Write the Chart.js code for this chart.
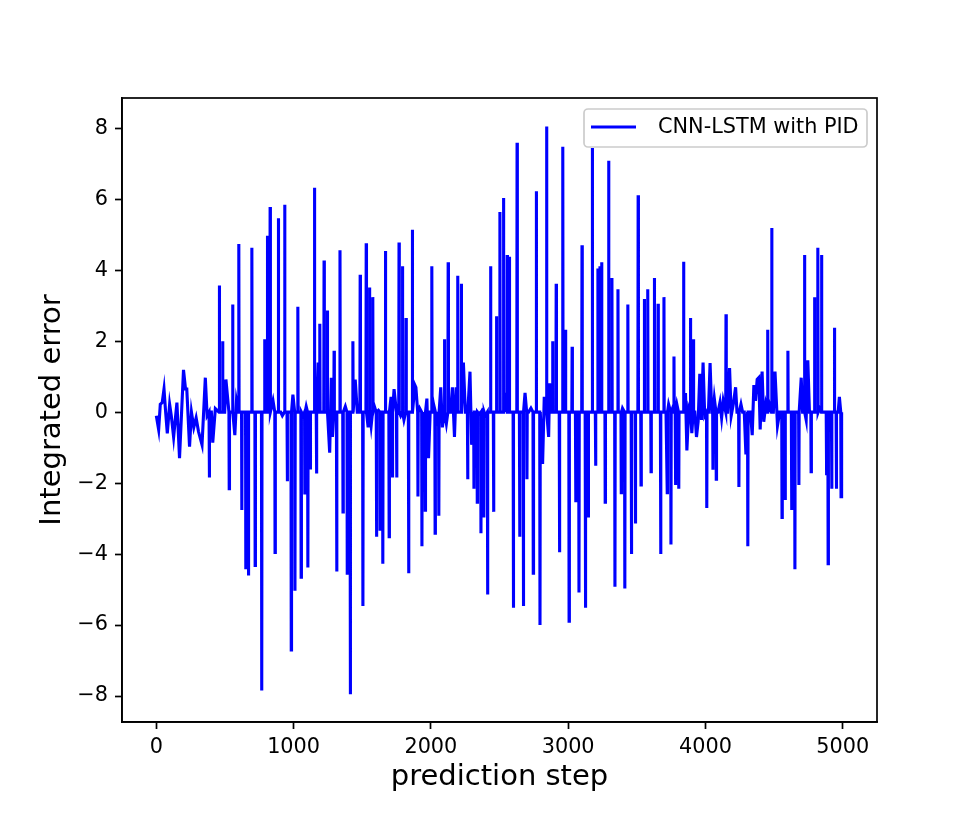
<!DOCTYPE html>
<html lang="en">
<head>
    <meta charset="UTF-8">
    <title>Integrated error</title>
    <script src="https://cdn.jsdelivr.net/npm/chart.js"></script>
    <style>
        html, body { margin: 0; padding: 0; background: #fff; }
        #wrap { width: 975px; height: 825px; }
    </style>
</head>
<body>
    <div id="wrap"><canvas id="err-chart" width="975" height="825"></canvas></div>

    <script>
        // values (vertices of the trace)
        const steps = [
            0, 17, 29, 43, 56, 68, 80, 97, 109, 126, 150, 169, 198, 213, 222, 242, 256, 273, 290, 307,
            333, 357, 370, 386, 401, 411, 430, 459, 473, 483, 498, 507, 531, 556, 572, 584, 601, 623, 652, 671,
            696, 720, 739, 768, 790, 809, 829, 850, 865, 889, 906, 918, 935, 942, 954, 966, 983, 995, 1010, 1031,
            1055, 1070, 1082, 1092, 1104, 1121, 1135, 1152, 1167, 1179, 1191, 1203, 1222, 1234, 1246, 1263, 1275, 1283, 1295, 1314,
            1338, 1360, 1377, 1391, 1413, 1432, 1449, 1464, 1485, 1505, 1529, 1543, 1553, 1565, 1577, 1589, 1604, 1618, 1630, 1650,
            1669, 1686, 1696, 1710, 1720, 1732, 1751, 1768, 1780, 1793, 1804, 1819, 1838, 1853, 1865, 1884, 1891, 1906, 1918, 1935,
            1944, 1959, 1971, 1983, 1995, 2007, 2019, 2031, 2046, 2058, 2072, 2084, 2099, 2113, 2126, 2143, 2157, 2172, 2184, 2196,
            2208, 2222, 2237, 2251, 2268, 2285, 2297, 2314, 2326, 2338, 2350, 2365, 2374, 2386, 2396, 2413, 2435, 2457, 2478, 2490,
            2503, 2517, 2529, 2543, 2556, 2565, 2572, 2601, 2628, 2647, 2657, 2674, 2686, 2700, 2712, 2729, 2746, 2768, 2780, 2795,
            2814, 2826, 2843, 2858, 2865, 2875, 2887, 2901, 2913, 2925, 2937, 2961, 2981, 2990, 3007, 3029, 3043, 3055, 3065, 3079,
            3101, 3126, 3147, 3159, 3176, 3188, 3200, 3217, 3232, 3244, 3256, 3270, 3295, 3307, 3319, 3341, 3363, 3372, 3387, 3396,
            3413, 3435, 3447, 3461, 3478, 3490, 3510, 3531, 3546, 3555, 3565, 3580, 3592, 3604, 3628, 3643, 3655, 3674, 3698, 3713,
            3722, 3732, 3749, 3761, 3771, 3782, 3792, 3806, 3821, 3841, 3855, 3865, 3879, 3891, 3901, 3913, 3923, 3935, 3947, 3959,
            3971, 3983, 3995, 4010, 4022, 4034, 4046, 4055, 4065, 4079, 4092, 4106, 4118, 4130, 4150, 4162, 4176, 4188, 4203, 4220,
            4230, 4244, 4259, 4271, 4283, 4295, 4309, 4328, 4341, 4353, 4365, 4377, 4389, 4399, 4413, 4425, 4440, 4454, 4466, 4483,
            4495, 4507, 4525, 4541, 4558, 4568, 4580, 4601, 4616, 4628, 4638, 4652, 4669, 4681, 4698, 4708, 4722, 4734, 4746, 4758,
            4770, 4783, 4795, 4807, 4819, 4831, 4846, 4858, 4870, 4882, 4894, 4908, 4920, 4930, 4940, 4954, 4967, 4976, 4988, 4993
        ];
        const errors = [
            -0.1, -0.49, 0.22, 0.27, 0.65, 0, -0.6, 0.22, -0.1, -0.7, 0.27, -1.3, 1.19, 0.65, 0.65, -0.97, 0, -0.43, -0.16, -0.54,
            -0.92, 0.97, -0.1, -1.84, 0, -0.86, 0.1, 3.57, 0, 2.0, 0, 0.92, -2.16, 3.03, -0.65, 0.32, 4.74, -2.76, -4.43, -4.6,
            4.63, -4.32, 0, -7.84, 2.05, 4.97, 5.78, 0.32, -3.95, 5.46, 0, -0.1, 5.84, 0, -1.95, 0, -6.7, 0.49, -5.03, 2.97,
            -4.65, -0.1, -2.32, 0.16, -4.38, -1.57, 0, 6.32, -1.73, 1.4, 2.49, 0, 4.27, 0, 2.86, -1.14, 0.97, -0.7, 1.73, -4.49,
            4.56, -2.81, 0.16, -4.54, -7.95, 2.0, 0.92, 0, 3.87, -5.46, 4.76, -0.43, 3.51, -0.38, 3.24, 0.16, -3.51, 0.05, -3.3, -4.27,
            4.54, 0, -3.51, 0.43, -1.84, 0.65, -1.84, 4.78, -0.1, 4.11, -0.22, 2.65, -4.54, 0, 5.14, 0.76, 0.7, -2.38, 0.11, -3.78,
            -0.43, -2.76, 0.38, -1.3, 0, 4.11, 0.22, -3.41, -0.22, -2.92, 0.7, -0.43, 2.05, -0.32, 4.22, 0, 0.7, -0.7, 0.7, 3.84,
            0, 3.62, 1.4, 0, -1.89, 1.14, -0.92, -2.16, 0, -2.54, -0.05, -3.41, 0.05, -2.97, -0.1, -5.14, 4.11, -2.81, 2.7, 0,
            5.64, 0, 6.03, 0.3, 4.43, 0, 4.38, -5.51, 7.59, -3.51, 0, -5.46, 0.54, -1.89, 0, 0.11, -4.54, 6.22, 0, -6.0,
            -1.46, 0.43, 8.05, -0.7, 0.81, 0, 2.0, 0, 3.62, 0, -3.95, 7.48, 2.32, 0, -5.89, 1.84, 0, -2.54, 0, -5.08,
            4.7, -5.51, -2.97, 0, 7.44, 0, -1.51, 4.05, 4.11, 4.22, 0, -2.54, 7.08, 0, 3.78, -4.92, 3.46, 0, -2.27, 0.11,
            -4.97, 3.03, 0, -4.0, 0, -3.14, 6.11, -2.05, 0, 3.19, 0, 3.46, 0, -1.68, 3.78, 0, 3.05, -4.0, 3.24, 0,
            -2.27, 0.22, -3.73, 0.11, 1.57, -2.05, 0.22, -2.16, 0, 4.24, 0.54, -1.08, 0.11, 2.65, -0.59, 2.05, 0, -0.7, -0.27, 1.08,
            -0.22, 1.4, -0.1, -2.7, 0, 1.38, 0, -1.62, 0.38, -1.89, 0, 0.27, -0.16, 0.32, 2.76, 0, 1.24, -0.1, 0.22, 0.7,
            0, -2.11, 0.22, 0, 0, -1.19, -3.78, 0, -0.65, 0.76, 0.32, 0.92, 0.97, -0.49, 1.14, -0.27, 0.22, 2.32, 0.22, 5.19,
            0, 1.14, -0.38, 0, -2.97, 0, -2.43, 1.73, 0, -2.76, 0, -4.43, 0, -2.05, 0.97, 0, 4.43, -0.22, 1.46, 0,
            -1.68, 0, 3.24, 0, 4.63, 0.11, 4.43, 0, 0, -1.78, -4.27, 0, -2.16, 0, 2.38, -2.16, 0, 0.43, -2.38, -2.38
        ];
        const xTickValues = [0, 1000, 2000, 3000, 4000, 5000];
        const yTickValues = [-8, -6, -4, -2, 0, 2, 4, 6, 8];
        const seriesLabel = 'CNN-LSTM with PID';
        const xTitle = 'prediction step';
        const yTitle = 'Integrated error';

        const FONT = '"DejaVu Sans", sans-serif';
        const LINE_BLUE = '#0000ff';
        // large excursions in the picture are thin needles that leave and
        // return to the zero line within a couple of steps
        const NEEDLE_MIN = 1.5;
        const NEEDLE_HALF = 2;

        const minus = v => (v < 0 ? '\u2212' + Math.abs(v) : String(v));

        const tracePoints = [];
        steps.forEach((s, i) => {
            const v = errors[i];
            if (Math.abs(v) >= NEEDLE_MIN) {
                tracePoints.push({ x: s - NEEDLE_HALF, y: 0 });
                tracePoints.push({ x: s, y: v });
                tracePoints.push({ x: s + NEEDLE_HALF, y: 0 });
            } else {
                tracePoints.push({ x: s, y: v });
            }
        });

        // frame, axis titles and the boxed legend in the upper right
        const decorPlugin = {
            id: 'decor',
            afterDraw(chart) {
                const { ctx, chartArea: a } = chart;
                ctx.save();
                ctx.strokeStyle = '#000';
                ctx.lineWidth = 1.7;
                ctx.strokeRect(a.left, a.top, a.right - a.left, a.bottom - a.top);

                ctx.fillStyle = '#000';
                ctx.font = '29px ' + FONT;
                ctx.textAlign = 'center';
                ctx.textBaseline = 'middle';
                ctx.fillText(xTitle, (a.left + a.right) / 2, 777);
                ctx.translate(52, (a.top + a.bottom) / 2);
                ctx.rotate(-Math.PI / 2);
                ctx.fillText(yTitle, 0, 0);
                ctx.restore();

                // legend box
                ctx.save();
                const bx = 584, by = 109, bw = 283, bh = 38, r = 4;
                ctx.beginPath();
                ctx.roundRect(bx, by, bw, bh, r);
                ctx.fillStyle = 'rgba(255,255,255,0.8)';
                ctx.fill();
                ctx.strokeStyle = '#cccccc';
                ctx.lineWidth = 1.7;
                ctx.stroke();
                ctx.beginPath();
                ctx.moveTo(591, 127);
                ctx.lineTo(636, 127);
                ctx.strokeStyle = LINE_BLUE;
                ctx.lineWidth = 3.1;
                ctx.stroke();
                ctx.fillStyle = '#000';
                ctx.font = '20.8px ' + FONT;
                ctx.textAlign = 'left';
                ctx.textBaseline = 'middle';
                ctx.fillText(seriesLabel, 658, 128);
                ctx.restore();
            }
        };

        const ctx = document.getElementById('err-chart').getContext('2d');
        const chart = new Chart(ctx, {
            type: 'line',
            data: {
                datasets: [{
                    label: seriesLabel,
                    data: tracePoints,
                    borderColor: LINE_BLUE,
                    borderWidth: 3.1,
                    pointRadius: 0,
                    tension: 0,
                    fill: false,
                }],
            },
            options: {
                responsive: false,
                animation: false,
                devicePixelRatio: 1,
                layout: { padding: { left: 0, top: 98, right: 98, bottom: 0 } },
                plugins: {
                    legend: { display: false },
                    tooltip: { enabled: false },
                },
                scales: {
                    x: {
                        type: 'linear',
                        min: -250,
                        max: 5250,
                        afterBuildTicks: scale => { scale.ticks = xTickValues.map(v => ({ value: v })); },
                        afterFit: scale => { scale.height = 103; },
                        grid: { drawOnChartArea: false, drawTicks: true, tickLength: 7, tickColor: '#000', tickWidth: 1.7 },
                        border: { display: true, color: '#000', width: 1.7 },
                        ticks: { color: '#000', padding: 6, maxRotation: 0, callback: v => String(v), font: { family: FONT, size: 20.8 } },
                    },
                    y: {
                        type: 'linear',
                        min: -8.73,
                        max: 8.85,
                        afterBuildTicks: scale => { scale.ticks = yTickValues.map(v => ({ value: v })); },
                        afterFit: scale => { scale.width = 122; },
                        grid: { drawOnChartArea: false, drawTicks: true, tickLength: 7, tickColor: '#000', tickWidth: 1.7 },
                        border: { display: true, color: '#000', width: 1.7 },
                        ticks: { color: '#000', padding: 7, callback: v => minus(v), font: { family: FONT, size: 20.8 } },
                    },
                },
            },
            plugins: [decorPlugin],
        });
    </script>
</body>
</html>
